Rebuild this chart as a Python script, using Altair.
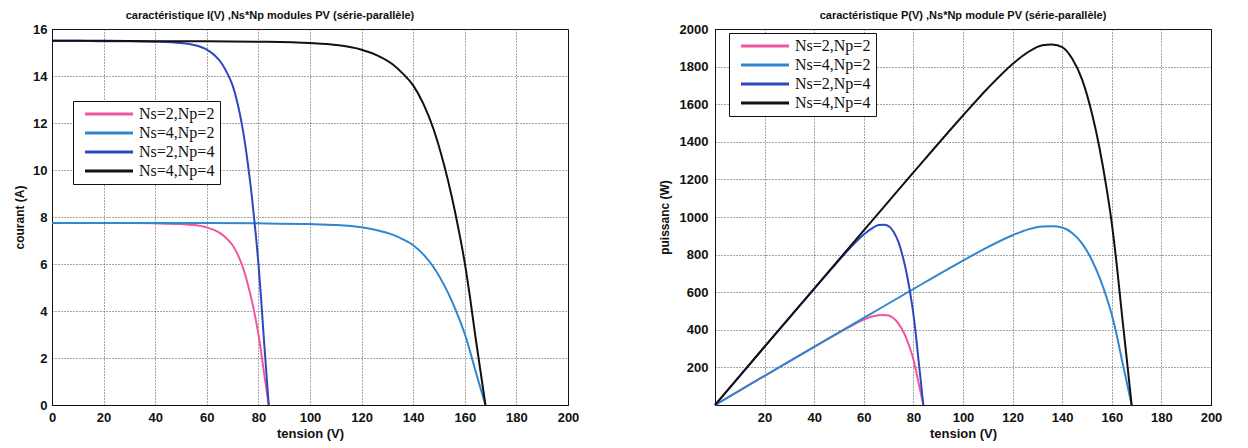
import altair as alt
import pandas as pd

SERIES = ["Ns=2,Np=2", "Ns=4,Np=2", "Ns=2,Np=4", "Ns=4,Np=4"]
COLORS = ["#f2559f", "#2f87d1", "#2b48bd", "#111111"]

# voltage grids (V)
V_NS2 = [0, 10, 20, 30, 40, 50, 55, 60, 63, 66, 68, 70, 72, 74, 76, 77.5, 79, 80, 81, 82, 83, 84]
V_NS4 = [0, 20, 40, 60, 80, 100, 110, 120, 126, 132, 136, 140, 144, 148, 152, 155, 158, 160, 162, 164, 166, 168]

# currents (A)
I_NP2 = [7.75, 7.75, 7.74, 7.74, 7.73, 7.70, 7.66, 7.56, 7.44, 7.25, 7.05, 6.80, 6.40, 5.85, 5.10, 4.42, 3.62, 3.02, 2.30, 1.50, 0.75, 0]
I_NP4 = [15.5, 15.5, 15.48, 15.48, 15.46, 15.40, 15.32, 15.12, 14.88, 14.50, 14.10, 13.60, 12.80, 11.70, 10.20, 8.84, 7.24, 6.04, 4.60, 3.00, 1.50, 0]

# powers (W)
P_22 = [0, 78, 155, 232, 309, 385, 421, 454, 469, 478, 479, 476, 461, 433, 388, 343, 286, 242, 186, 123, 62, 0]
P_42 = [0, 155, 309, 463, 617, 768, 840, 903, 933, 950, 951, 944, 915, 860, 770, 680, 568, 480, 371, 245, 124, 0]
P_24 = [0, 155, 310, 464, 618, 770, 843, 907, 937, 957, 959, 952, 922, 866, 775, 685, 572, 483, 373, 246, 125, 0]
P_44 = [0, 310, 619, 929, 1237, 1540, 1685, 1814, 1875, 1914, 1918, 1904, 1843, 1732, 1550, 1370, 1144, 966, 745, 492, 249, 0]

X_TICKS = [0, 20, 40, 60, 80, 100, 120, 140, 160, 180, 200]
I_TICKS = [0, 2, 4, 6, 8, 10, 12, 14, 16]
P_TICKS = [0, 200, 400, 600, 800, 1000, 1200, 1400, 1600, 1800, 2000]

iv_sets = [(SERIES[0], V_NS2, I_NP2), (SERIES[1], V_NS4, I_NP2),
           (SERIES[2], V_NS2, I_NP4), (SERIES[3], V_NS4, I_NP4)]
pv_sets = [(SERIES[0], V_NS2, P_22), (SERIES[1], V_NS4, P_42),
           (SERIES[2], V_NS2, P_24), (SERIES[3], V_NS4, P_44)]

rows = []
for s, vs, ys in iv_sets:
    for k, (v, y) in enumerate(zip(vs, ys)):
        rows.append({"serie": s, "V": v, "Y": y, "k": k})
df_iv = pd.DataFrame(rows)
rows = []
for s, vs, ys in pv_sets:
    for k, (v, y) in enumerate(zip(vs, ys)):
        rows.append({"serie": s, "V": v, "Y": y, "k": k})
df_pv = pd.DataFrame(rows)

FONT = "Liberation Sans"

def axis(values, title, hide_zero=False, label_pad=4, title_pad=4, title_size=12):
    kw = dict(values=values, title=title, format="d", grid=True, gridDash=[1, 2], gridColor="#222222",
              gridOpacity=0.8, gridWidth=1, ticks=False, domainColor="#111111",
              labelFont=FONT, labelFontSize=13, labelFontWeight="bold", labelColor="#111111",
              labelPadding=label_pad,
              titleFont=FONT, titleFontSize=title_size, titleFontWeight="bold", titleColor="#111111",
              titlePadding=title_pad, labelFlush=False)
    if hide_zero:
        kw["labelExpr"] = "datum.value == 0 ? '' : datum.label"
    return alt.Axis(**kw)

def legend(lx, ly):
    return alt.Legend(orient="none", legendX=lx, legendY=ly, title=None, direction="vertical",
                      fillColor="white", strokeColor="#111111", padding=5, cornerRadius=0,
                      labelFont="Liberation Serif", labelFontSize=16, labelColor="#111111",
                      symbolType="M-4,0H4", symbolSize=144, symbolStrokeWidth=3,
                      symbolOffset=23, labelOffset=22, rowPadding=3)

color_scale = alt.Scale(domain=SERIES, range=COLORS)

left = alt.Chart(df_iv, title=alt.TitleParams(
    "caractéristique I(V) ,Ns*Np modules PV (série-parallèle)",
    font=FONT, fontSize=11, fontWeight="bold", color="#111111", offset=2, dx=-40)
).mark_line(strokeWidth=2, interpolate="monotone").encode(
    x=alt.X("V:Q", scale=alt.Scale(domain=[0, 200], nice=False),
            axis=axis(X_TICKS, "tension  (V)", label_pad=6, title_pad=3, title_size=13)),
    y=alt.Y("Y:Q", scale=alt.Scale(domain=[0, 16], nice=False),
            axis=axis(I_TICKS, "courant  (A)", label_pad=5, title_pad=6)),
    color=alt.Color("serie:N", scale=color_scale, legend=legend(21, 72)),
    order=alt.Order("k:Q"),
).properties(width=516, height=376)

right = alt.Chart(df_pv, title=alt.TitleParams(
    "caractéristique P(V) ,Ns*Np module PV (série-parallèle)",
    font=FONT, fontSize=11, fontWeight="bold", color="#111111", offset=2)
).mark_line(strokeWidth=2, interpolate="monotone").encode(
    x=alt.X("V:Q", scale=alt.Scale(domain=[0, 200], nice=False),
            axis=axis(X_TICKS, "tension  (V)", hide_zero=True, label_pad=6, title_pad=3, title_size=13)),
    y=alt.Y("Y:Q", scale=alt.Scale(domain=[0, 2000], nice=False),
            axis=axis(P_TICKS, "puissanc (W)", hide_zero=True, label_pad=7, title_pad=8)),
    color=alt.Color("serie:N", scale=color_scale, legend=legend(14, 4)),
    order=alt.Order("k:Q"),
).properties(width=496, height=376)

chart = alt.hconcat(left, right, spacing=77).resolve_scale(color="independent").properties(
    padding={"left": 5, "top": 1, "right": 5, "bottom": 0}, background="white"
).configure_view(stroke="#111111", strokeWidth=1)

chart.save("out.html", embed_options={"renderer": "svg", "actions": False})
